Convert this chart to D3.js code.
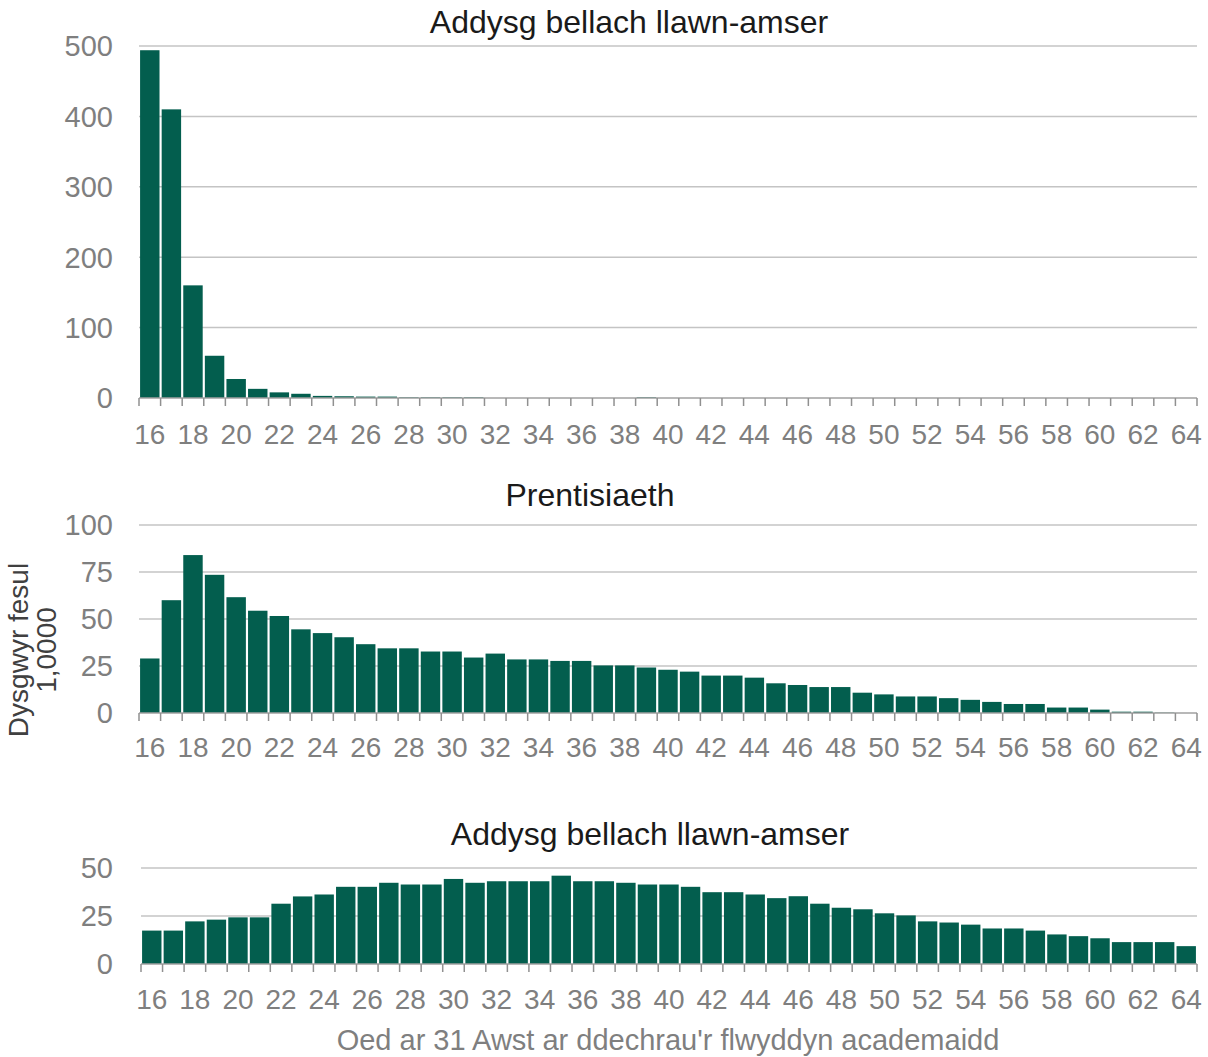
<!DOCTYPE html>
<html><head><meta charset="utf-8">
<script src="https://cdn.jsdelivr.net/npm/d3@7"></script>
<style>body{margin:0;background:#fff}svg{display:block;font-family:"Liberation Sans",Arial,sans-serif}</style>
</head><body>
<svg id="c" width="1208" height="1057"></svg>
<script>
const ages = d3.range(16, 65);
const fullTime1 = [494,410,160,60,27,13,8,6,3,2.5,2,2,1,1,1,1,0,0,0,0,0,0,0,1,0,0,0,0,0,0,0,0,0,0,0,0,0,0,0,0,0,0,0,0,0,0,0,0,0];
const apprenticeship = [29,60,84,73.5,61.6,54.4,51.6,44.5,42.5,40.3,36.6,34.4,34.4,32.7,32.7,29.5,31.6,28.5,28.5,27.7,27.7,25.3,25.3,24.2,23,22,19.9,19.9,18.8,15.8,14.9,13.8,13.8,10.8,9.9,8.8,8.8,7.9,7,5.9,4.8,4.8,2.9,2.9,1.8,0.7,0.7,0.2,0];
const fullTime2 = [17.4,17.4,22.2,23.1,24.3,24.3,31.4,35.2,36.2,40.2,40.2,42.3,41.4,41.4,44.3,42.3,43.1,43.1,43.1,46,43.1,43.1,42.3,41.4,41.4,40.2,37.4,37.4,36.2,34.3,35.3,31.4,29.3,28.5,26.4,25.3,22.2,21.6,20.5,18.5,18.5,17.4,15.4,14.5,13.4,11.4,11.4,11.4,9.3];
const titles = ["Addysg bellach llawn-amser","Prentisiaeth","Addysg bellach llawn-amser"];
const yTicks1 = [0,100,200,300,400,500];
const yTicks2 = [0,25,50,75,100];
const yTicks3 = [0,25,50];
const yLabel = ["Dysgwyr fesul","1,0000"];
const xTitle = "Oed ar 31 Awst ar ddechrau'r flwyddyn academaidd";

const svg = d3.select("#c");
const barColor = "#035e4e";
const grey = "#7f7f7f";

const panels = [
  {data: fullTime1, ticks: yTicks1, max: 500, x0: 139, x1: 1197, yTop: 46, yBot: 398, title: titles[0], tx: 629, ty: 33, lblY: 444},
  {data: apprenticeship, ticks: yTicks2, max: 100, x0: 139, x1: 1197, yTop: 525, yBot: 713, title: titles[1], tx: 590, ty: 506, lblY: 757},
  {data: fullTime2, ticks: yTicks3, max: 50, x0: 141, x1: 1197, yTop: 868, yBot: 964, title: titles[2], tx: 650, ty: 845, lblY: 1009}
];

panels.forEach(p => {
  const x = d3.scaleBand().domain(ages).range([p.x0, p.x1]).paddingInner(0.1).paddingOuter(0.05);
  const xb = d3.scaleBand().domain(ages).range([p.x0, p.x1]);
  const y = d3.scaleLinear().domain([0, p.max]).range([p.yBot, p.yTop]);
  const g = svg.append("g");
  g.selectAll("line.grid").data(p.ticks.filter(t => t > 0)).join("line")
    .attr("x1", p.x0).attr("x2", p.x1).attr("y1", d => y(d)).attr("y2", d => y(d))
    .attr("stroke", "#c4c4c4").attr("stroke-width", 1.5);
  g.selectAll("text.yl").data(p.ticks).join("text")
    .attr("x", 113).attr("y", d => y(d)).attr("dy", "0.36em")
    .attr("text-anchor", "end").attr("fill", grey).attr("font-size", 29).text(d => d);
  g.selectAll("rect").data(p.data).join("rect")
    .attr("x", (d, i) => x(ages[i])).attr("width", x.bandwidth())
    .attr("y", d => y(d)).attr("height", d => y(0) - y(d))
    .attr("fill", barColor);
  g.append("line").attr("x1", p.x0).attr("x2", p.x1).attr("y1", p.yBot).attr("y2", p.yBot)
    .attr("stroke", "#a0a0a0").attr("stroke-width", 1.5);
  const bounds = ages.map(a => xb(a)).concat([p.x1]);
  g.selectAll("line.tk").data(bounds).join("line")
    .attr("x1", d => d).attr("x2", d => d).attr("y1", p.yBot).attr("y2", p.yBot + 8)
    .attr("stroke", "#909090").attr("stroke-width", 1.5);
  g.selectAll("text.xl").data(ages.filter(a => a % 2 === 0)).join("text")
    .attr("x", d => xb(d) + xb.bandwidth() / 2).attr("y", p.lblY)
    .attr("text-anchor", "middle").attr("fill", grey).attr("font-size", 28).text(d => d);
  g.append("text").attr("x", p.tx).attr("y", p.ty).attr("text-anchor", "middle")
    .attr("fill", "#1a1a1a").attr("font-size", 32).text(p.title);
});

const yl = svg.append("text").attr("transform", "translate(28,650) rotate(-90)")
  .attr("text-anchor", "middle").attr("fill", "#404040").attr("font-size", 28);
yl.append("tspan").attr("x", 0).attr("dy", 0).text(yLabel[0]);
yl.append("tspan").attr("x", 0).attr("dy", 28).text(yLabel[1]);

svg.append("text").attr("x", 668).attr("y", 1050).attr("text-anchor", "middle")
  .attr("fill", grey).attr("font-size", 29).text(xTitle);
</script>
</body></html>
